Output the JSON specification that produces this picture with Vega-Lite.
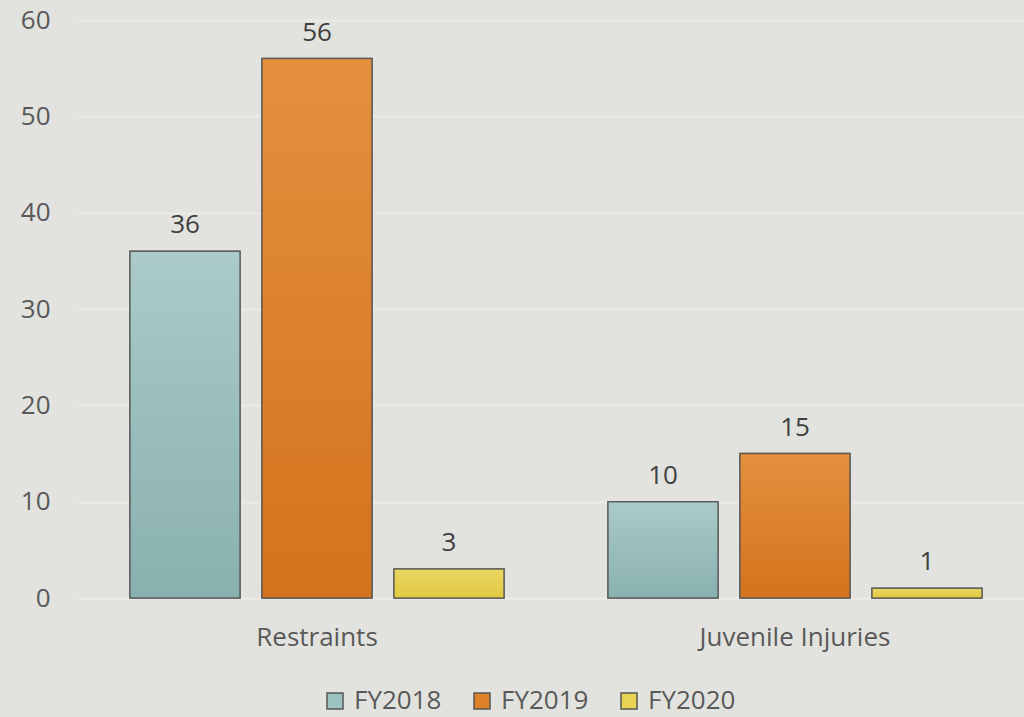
{
  "$schema": "https://vega.github.io/schema/vega-lite/v6.json",
  "width": 956,
  "height": 578,
  "autosize": "none",
  "padding": {"left": 78, "top": 20, "right": 0, "bottom": 119},
  "background": "#e2e3de",
  "config": {
    "view": {"stroke": null},
    "font": "Open Sans",
    "axis": {"labelFont": "Open Sans", "labelColor": "#595959", "labelFontSize": 26, "labelLimit": 0, "domain": false, "ticks": false, "gridColor": "#ebebe8", "gridWidth": 2}
  },
  "data": {
    "values": [
      {"category": "Restraints", "year": "FY2018", "value": 36},
      {"category": "Restraints", "year": "FY2019", "value": 56},
      {"category": "Restraints", "year": "FY2020", "value": 3},
      {"category": "Juvenile Injuries", "year": "FY2018", "value": 10},
      {"category": "Juvenile Injuries", "year": "FY2019", "value": 15},
      {"category": "Juvenile Injuries", "year": "FY2020", "value": 1}
    ]
  },
  "encoding": {
    "x": {"field": "category", "type": "nominal", "sort": ["Restraints", "Juvenile Injuries"], "title": null,
      "scale": {"paddingInner": 0, "paddingOuter": 0},
      "axis": {"labelAngle": 0, "labelPadding": 26, "grid": false, "labelLimit": 0}},
    "xOffset": {"field": "year", "type": "nominal", "sort": ["FY2018", "FY2019", "FY2020"], "scale": {"paddingInner": 0.1667, "paddingOuter": 0.394}},
    "y": {"field": "value", "type": "quantitative", "title": null,
      "scale": {"domain": [0, 60]},
      "axis": {"values": [0, 10, 20, 30, 40, 50, 60], "labelPadding": 28, "grid": true}}
  },
  "layer": [
    {
      "mark": {"type": "bar", "stroke": "#505050", "strokeWidth": 1.5, "strokeOpacity": 0.8},
      "encoding": {
        "color": {"field": "year", "type": "nominal", "title": null,
          "scale": {"domain": ["FY2018", "FY2019", "FY2020"], "range": ["#9cc2c1", "#de8128", "#e8d352"]},
          "legend": {"orient": "none", "legendX": 244, "legendY": 668, "direction": "horizontal", "symbolType": "square", "symbolSize": 256, "symbolStrokeColor": "#555555", "symbolStrokeWidth": 1.5, "labelFontSize": 26, "labelColor": "#595959", "labelFont": "Open Sans", "columnPadding": 27, "labelOffset": 6, "labelLimit": 0}}
      }
    },
    {
      "transform": [{"filter": "datum.year === 'FY2018'"}],
      "mark": {"type": "bar", "stroke": "#505050", "strokeWidth": 1.5, "strokeOpacity": 0.8,
        "fill": {"gradient": "linear", "x1": 0, "y1": 0, "x2": 0, "y2": 1, "stops": [{"offset": 0, "color": "#aacbca"}, {"offset": 1, "color": "#89b0af"}]}},
      "encoding": {}
    },
    {
      "transform": [{"filter": "datum.year === 'FY2019'"}],
      "mark": {"type": "bar", "stroke": "#505050", "strokeWidth": 1.5, "strokeOpacity": 0.8,
        "fill": {"gradient": "linear", "x1": 0, "y1": 0, "x2": 0, "y2": 1, "stops": [{"offset": 0, "color": "#e4903e"}, {"offset": 1, "color": "#d4731c"}]}},
      "encoding": {}
    },
    {
      "transform": [{"filter": "datum.year === 'FY2020'"}],
      "mark": {"type": "bar", "stroke": "#505050", "strokeWidth": 1.5, "strokeOpacity": 0.8,
        "fill": {"gradient": "linear", "x1": 0, "y1": 0, "x2": 0, "y2": 1, "stops": [{"offset": 0, "color": "#ead663"}, {"offset": 1, "color": "#e2c940"}]}},
      "encoding": {}
    },
    {
      "mark": {"type": "text", "baseline": "bottom", "dy": -13, "fontSize": 26, "color": "#404040", "font": "Open Sans"},
      "encoding": {"text": {"field": "value", "type": "quantitative"}}
    }
  ]
}
